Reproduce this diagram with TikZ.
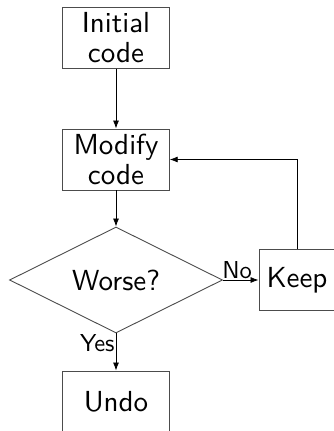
\documentclass[tikz,border=0pt]{standalone}
\usetikzlibrary{shapes.geometric,arrows.meta}
\newcommand\twoline[2]{\scalebox{2.9}{\vbox{\baselineskip=10.2pt\lineskiplimit=-20pt\halign{\hfil##\hfil\cr #1\cr #2\cr}}}}
\newcommand\oneline[1]{\scalebox{2.9}{#1}}
\newcommand\lbltxt[1]{\scalebox{2.45}{#1}}
\begin{document}
\begin{tikzpicture}[x=1pt,y=1pt,
  box/.style={draw=black!70,line width=0.9pt,minimum width=106.5pt,minimum height=61pt,inner sep=0pt,font=\sffamily\fontsize{10}{12}\selectfont},
  dec/.style={draw=black!70,line width=0.9pt,diamond,aspect=2,minimum width=213pt,minimum height=106pt,inner sep=0pt,font=\sffamily\fontsize{10}{12}\selectfont},
  arr/.style={draw=black,line width=0.8pt,-{Latex[length=8pt,width=6pt]}},
  lbl/.style={font=\sffamily\fontsize{10}{12}\selectfont,inner sep=1pt}]
\useasboundingbox (0,0) rectangle (334,431);
\node[box] (init) at (116,393.2) {\twoline{Initial}{code}};
\node[box] (modify) at (116,271.5) {\twoline{Modify}{code}};
\node[dec] (worse) at (116,151) {\oneline{Worse?}};
\node[box,minimum width=76pt] (keep) at (297,151) {\oneline{Keep}};
\node[box] (undo) at (116,29.5) {\oneline{Undo}};
\draw[arr] (init) -- (modify);
\draw[arr] (modify) -- (worse);
\draw[arr] (worse.east) -- node[lbl,above,pos=0.4] {\lbltxt{No}} (keep.west);
\draw[arr] (worse.south) -- node[lbl,left,pos=0.25] {\lbltxt{Yes}} (undo.north);
\draw[arr] (keep.north) |- (modify.east);
\end{tikzpicture}
\end{document}
